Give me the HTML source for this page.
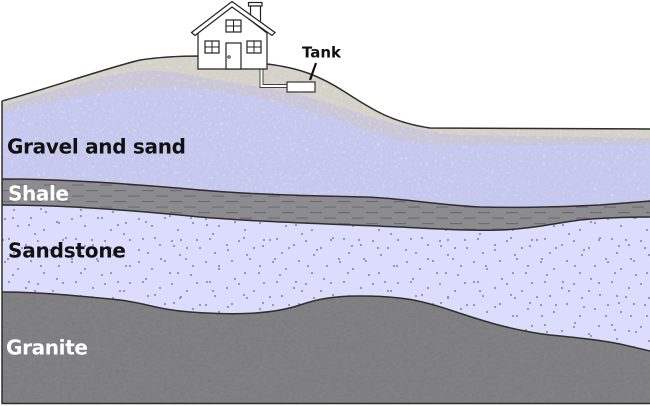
<!DOCTYPE html>
<html>
<head>
<meta charset="utf-8">
<style>
  html, body { margin: 0; padding: 0; background: #fff; }
  body { width: 650px; height: 406px; overflow: hidden; }
  svg { display: block; }
  .lbl { font-family: "DejaVu Sans", "Liberation Sans", sans-serif; font-weight: bold; }
</style>
</head>
<body>
<svg width="650" height="406" viewBox="0 0 650 406" xmlns="http://www.w3.org/2000/svg">
  <defs>
    <pattern id="dash" width="28" height="11" patternUnits="userSpaceOnUse" x="0" y="1">
      <rect x="2" y="2" width="12" height="1.2" fill="#6c6c72"/>
      <rect x="16" y="7.5" width="12" height="1.2" fill="#6c6c72"/>
    </pattern>
    <pattern id="dotsA" width="67" height="43" patternUnits="userSpaceOnUse">
      <circle cx="5" cy="4" r="1.1" fill="#9090ae"/>
      <circle cx="18" cy="11" r="1.1" fill="#9090ae"/>
      <circle cx="31" cy="3" r="1.1" fill="#9090ae"/>
      <circle cx="44" cy="15" r="1.1" fill="#9090ae"/>
      <circle cx="59" cy="8" r="1.1" fill="#9090ae"/>
      <circle cx="9" cy="24" r="1.1" fill="#9090ae"/>
      <circle cx="26" cy="30" r="1.1" fill="#9090ae"/>
      <circle cx="38" cy="26" r="1.1" fill="#9090ae"/>
      <circle cx="53" cy="33" r="1.1" fill="#9090ae"/>
      <circle cx="63" cy="25" r="1.1" fill="#9090ae"/>
      <circle cx="14" cy="38" r="1.1" fill="#9090ae"/>
      <circle cx="46" cy="40" r="1.1" fill="#9090ae"/>
    </pattern>
    <pattern id="dotsB" width="89" height="57" patternUnits="userSpaceOnUse">
      <circle cx="3" cy="12" r="1.1" fill="#9090ae"/>
      <circle cx="13" cy="47" r="1.1" fill="#9090ae"/>
      <circle cx="22" cy="20" r="1.1" fill="#9090ae"/>
      <circle cx="35" cy="6" r="1.1" fill="#9090ae"/>
      <circle cx="41" cy="38" r="1.1" fill="#9090ae"/>
      <circle cx="50" cy="22" r="1.1" fill="#9090ae"/>
      <circle cx="57" cy="51" r="1.1" fill="#9090ae"/>
      <circle cx="66" cy="10" r="1.1" fill="#9090ae"/>
      <circle cx="72" cy="31" r="1.1" fill="#9090ae"/>
      <circle cx="81" cy="45" r="1.1" fill="#9090ae"/>
      <circle cx="85" cy="18" r="1.1" fill="#9090ae"/>
      <circle cx="29" cy="54" r="1.1" fill="#9090ae"/>
      <circle cx="8" cy="31" r="1.1" fill="#9090ae"/>
    </pattern>
    <filter id="speck" x="0" y="0" width="100%" height="100%">
      <feTurbulence type="fractalNoise" baseFrequency="0.35" numOctaves="2" seed="7"/>
      <feColorMatrix type="matrix" values="0 0 0 0 1  0 0 0 0 1  0 0 0 0 1  3 0 0 0 -1.7"/>
    </filter>
    <filter id="grain" x="0" y="0" width="100%" height="100%">
      <feTurbulence type="fractalNoise" baseFrequency="0.25 0.4" numOctaves="2" seed="4"/>
      <feColorMatrix type="matrix" values="1 0 0 0 0  1 0 0 0 0  1 0 0 0 0  0 0 0 0 0.07"/>
    </filter>
    <clipPath id="upperClip">
      <path d="M2,101 C50,88 100,70 140,60 C160,57 180,56 200,56 L267,64 C300,68 320,76 345,92 C370,108 390,122 430,128 L650,129 L650,200 L2,200 Z"/>
    </clipPath>
    <clipPath id="graniteClip">
      <path d="M2,292 C40,292 80,296 120,300 C145,303 160,310 190,312 C230,315 270,315 300,305 C315,300 330,296 360,296 C400,296 420,300 450,310 C480,320 510,330 550,335 C580,338 600,340 620,344 L650,351 L650,404 L2,404 Z"/>
    </clipPath>
  </defs>

  <!-- beige top soil -->
  <path d="M2,101 C50,88 100,70 140,60 C160,57 180,56 200,56 L267,64 C300,68 320,76 345,92 C370,108 390,122 430,128 L650,129 L650,404 L2,404 Z" fill="#d5d2ca"/>
  <!-- lavender band -->
  <path d="M2,106 C40,95 90,78 130,72 C160,69 180,72 200,77 C240,84 270,88 300,95 C340,105 370,118 400,125 C420,130 435,133 460,135 L650,138 L650,404 L2,404 Z" fill="#cac8d8"/>
  <!-- gravel blue -->
  <path d="M2,113 C40,104 90,92 130,90 C160,88 180,87 200,89 C240,93 270,99 300,108 C340,120 370,132 400,140 C420,144 440,145 470,145 L650,145 L650,404 L2,404 Z" fill="#c6c8ee"/>
  <!-- speckles on gravel/soil -->
  <rect x="0" y="50" width="650" height="160" filter="url(#speck)" clip-path="url(#upperClip)" opacity="0.4"/>

  <!-- shale -->
  <path d="M2,179 C60,179 120,183 200,190 C260,195 320,196 365,197 C400,198 430,204 480,207 C520,208 560,207 600,205 L650,201 L650,404 L2,404 Z" fill="#8b8b90"/>
  <path d="M2,179 C60,179 120,183 200,190 C260,195 320,196 365,197 C400,198 430,204 480,207 C520,208 560,207 600,205 L650,201 L650,404 L2,404 Z" fill="url(#dash)"/>

  <!-- sandstone -->
  <path d="M2,205 C60,205 130,210 200,217 C260,222 330,224 400,227 C440,229 470,231 500,230 C530,229 550,224 580,220 C600,218 630,217 650,217 L650,404 L2,404 Z" fill="#dcdcfc"/>
  <path d="M2,205 C60,205 130,210 200,217 C260,222 330,224 400,227 C440,229 470,231 500,230 C530,229 550,224 580,220 C600,218 630,217 650,217 L650,404 L2,404 Z" fill="url(#dotsA)"/>
  <path d="M2,205 C60,205 130,210 200,217 C260,222 330,224 400,227 C440,229 470,231 500,230 C530,229 550,224 580,220 C600,218 630,217 650,217 L650,404 L2,404 Z" fill="url(#dotsB)"/>

  <!-- granite -->
  <path d="M2,292 C40,292 80,296 120,300 C145,303 160,310 190,312 C230,315 270,315 300,305 C315,300 330,296 360,296 C400,296 420,300 450,310 C480,320 510,330 550,335 C580,338 600,340 620,344 L650,351 L650,404 L2,404 Z" fill="#7b7b7e"/>
  <rect x="0" y="290" width="650" height="116" filter="url(#grain)" clip-path="url(#graniteClip)"/>

  <!-- boundary lines -->
  <g fill="none" stroke="#2e2e2e" stroke-width="1.5" stroke-linejoin="round">
    <path d="M2,101 C50,88 100,70 140,60 C160,57 180,56 200,56 L267,64 C300,68 320,76 345,92 C370,108 390,122 430,128 L650,129"/>
    <path d="M2,179 C60,179 120,183 200,190 C260,195 320,196 365,197 C400,198 430,204 480,207 C520,208 560,207 600,205 L650,201"/>
    <path d="M2,205 C60,205 130,210 200,217 C260,222 330,224 400,227 C440,229 470,231 500,230 C530,229 550,224 580,220 C600,218 630,217 650,217"/>
    <path d="M2,292 C40,292 80,296 120,300 C145,303 160,310 190,312 C230,315 270,315 300,305 C315,300 330,296 360,296 C400,296 420,300 450,310 C480,320 510,330 550,335 C580,338 600,340 620,344 L650,351"/>
    <path d="M2,101 L2,403.5 L650,403.5"/>
  </g>

  <!-- pipe -->
  <polygon points="260,68 260,87.5 287,87.5 287,84.5 263,84.5 263,68" fill="#fff" stroke="#444" stroke-width="1"/>
  <!-- tank -->
  <rect x="287" y="82" width="28" height="10" fill="#fff" stroke="#333" stroke-width="1.2"/>
  <line x1="316" y1="63" x2="310" y2="80" stroke="#111" stroke-width="2.2"/>

  <!-- house -->
  <g stroke="#222" stroke-width="1.2" fill="#fff" stroke-linejoin="miter">
    <rect x="248.5" y="2.5" width="13.5" height="3.5"/>
    <rect x="250.5" y="6" width="10" height="16"/>
    <polygon points="198,69 198,33 232,6 267,33 267,69"/>
    <polygon points="191.5,32.5 232,1.5 275,32.5 272,35.5 232,7 195,35.5"/>
    <rect x="226" y="20" width="15" height="12"/>
    <rect x="205" y="41" width="14" height="12"/>
    <rect x="247" y="41" width="14" height="12"/>
    <rect x="226" y="43" width="15" height="26"/>
  </g>
  <g stroke="#222" stroke-width="1">
    <line x1="233.5" y1="20" x2="233.5" y2="32"/>
    <line x1="226" y1="26" x2="241" y2="26"/>
    <line x1="212" y1="41" x2="212" y2="53"/>
    <line x1="205" y1="47" x2="219" y2="47"/>
    <line x1="254" y1="41" x2="254" y2="53"/>
    <line x1="247" y1="47" x2="261" y2="47"/>
  </g>
  <circle cx="229" cy="57" r="1.2" fill="none" stroke="#222" stroke-width="0.9"/>

  <!-- labels -->
  <text class="lbl" x="302" y="57.5" font-size="15" fill="#111" textLength="39" lengthAdjust="spacing">Tank</text>
  <text class="lbl" x="7" y="153.5" font-size="20" fill="#111" textLength="179" lengthAdjust="spacing">Gravel and sand</text>
  <text class="lbl" x="8" y="200.5" font-size="20" fill="#fff" textLength="61" lengthAdjust="spacing">Shale</text>
  <text class="lbl" x="8" y="257.5" font-size="20" fill="#111" textLength="118" lengthAdjust="spacing">Sandstone</text>
  <text class="lbl" x="6" y="354.5" font-size="20" fill="#fff" textLength="82" lengthAdjust="spacing">Granite</text>
</svg>
</body>
</html>
